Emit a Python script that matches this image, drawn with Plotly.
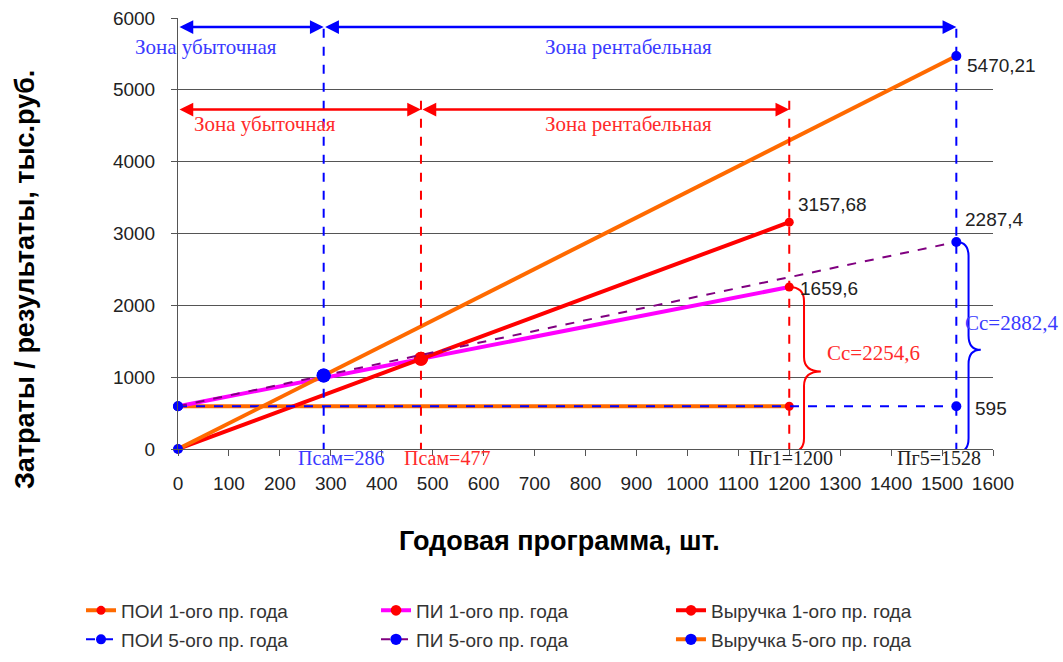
import plotly.graph_objects as go

# ---------------- data ----------------
series_names = ["ПОИ 1-ого пр. года", "ПИ 1-ого пр. года", "Выручка 1-ого пр. года",
                "ПОИ 5-ого пр. года", "ПИ 5-ого пр. года", "Выручка 5-ого пр. года"]

x_poi1 = [0, 1200]
y_poi1 = [595, 595]
x_year1 = [0, 477, 1200]
y_pi1 = [595, 1255, 2254.6]
y_rev1 = [0, 1255, 3157.68]

x_poi5 = [0, 1528]
y_poi5 = [595, 595]
x_year5 = [0, 286, 1528]
y_pi5 = [595, 1024, 2882.4]
y_rev5 = [0, 1024, 5470.21]

breakeven1 = 477
breakeven5 = 286
program1 = 1200
program5 = 1528
fixed_cost = 595
full_cost1 = 2254.6
full_cost5 = 2882.4

x_tick_vals = list(range(0, 1700, 100))
y_tick_vals = list(range(0, 7000, 1000))

value_labels = ["3157,68", "1659,6", "2287,4", "5470,21", "595"]
cost_labels = ["Cc=2254,6", "Cc=2882,4"]
point_labels = ["Псам=286", "Псам=477", "Пг1=1200", "Пг5=1528"]
zone_labels = ["Зона убыточная", "Зона рентабельная"]

# ---------------- styles ----------------
ORANGE = "#FF6A00"
RED = "#FF0000"
MAGENTA = "#FF00FF"
PURPLE = "#800080"
BLUE = "#0000FF"
TXT_BLUE = "#3A3AFF"
TXT_RED = "#FF2A2A"
SANS = "Liberation Sans, Arial, sans-serif"
SERIF = "Liberation Serif, Times New Roman, serif"

fig = go.Figure()

def add(x, y, name, color, width, dash, mcolor, msize, rank, legend):
    fig.add_trace(go.Scatter(
        x=x, y=y, name=name, mode="lines+markers",
        line=dict(color=color, width=width, dash=dash),
        marker=dict(color=mcolor, size=msize, symbol="circle", opacity=1,
                    line=dict(width=0, color=mcolor)),
        cliponaxis=False, legendrank=rank, legend=legend))

add(x_poi1, y_poi1, series_names[0], ORANGE, 4, "solid", RED, 9, 1, "legend")
add(x_year1, y_pi1, series_names[1], MAGENTA, 4, "solid", RED, [9, 14, 9], 2, "legend")
add(x_year1, y_rev1, series_names[2], RED, 4, "solid", RED, [9, 14, 9], 3, "legend")
add(x_poi5, y_poi5, series_names[3], BLUE, 2, "dash", BLUE, 10, 4, "legend2")
add(x_year5, y_pi5, series_names[4], PURPLE, 2, "dash", BLUE, [10, 14, 10], 5, "legend2")
add(x_year5, y_rev5, series_names[5], ORANGE, 4, "solid", BLUE, [10, 14, 10], 6, "legend3")

# vertical dashed guide lines
shapes = []
for xv, top, col in [(breakeven5, 5874, BLUE), (program5, 5874, BLUE),
                     (breakeven1, 4950, RED), (program1, 4950, RED)]:
    shapes.append(dict(type="line", xref="x", yref="y", x0=xv, x1=xv, y0=-40, y1=top,
                       line=dict(color=col, width=2, dash="dash"), layer="above"))

def brace(x0, xb, xt, ytop, ybot, ymid, r):
    return (f"M {x0},{ytop} Q {xb},{ytop} {xb},{ytop - r} "
            f"L {xb},{ymid + r} Q {xb},{ymid} {xt},{ymid} "
            f"Q {xb},{ymid} {xb},{ymid - r} "
            f"L {xb},{ybot + r} Q {xb},{ybot} {x0},{ybot}")

shapes.append(dict(type="path", xref="x", yref="y",
                   path=brace(program1, 1229, 1262, full_cost1, -50, 1080, 200),
                   line=dict(color=RED, width=2), layer="above"))
shapes.append(dict(type="path", xref="x", yref="y",
                   path=brace(program5, 1552, 1576, full_cost5, -50, 1380, 200),
                   line=dict(color=BLUE, width=2), layer="above"))

ann = []
# double arrows for zones
for (xa, xb, yv, col) in [(0, breakeven5, 5874, BLUE), (breakeven5, program5, 5874, BLUE),
                          (0, breakeven1, 4725, RED), (breakeven1, program1, 4725, RED)]:
    ann.append(dict(x=xb, y=yv, ax=xa, ay=yv, xref="x", yref="y", axref="x", ayref="y",
                    text="", showarrow=True, arrowhead=2, arrowside="end+start",
                    arrowsize=1.1, arrowwidth=2.5, arrowcolor=col, standoff=0, startstandoff=0))

# zone texts
zone_ann = [
    dict(x=54, y=5596, text=zone_labels[0], font=dict(color=TXT_BLUE, size=21, family=SERIF)),
    dict(x=884, y=5596, text=zone_labels[1], font=dict(color=TXT_BLUE, size=21, family=SERIF)),
    dict(x=171, y=4525, text=zone_labels[0], font=dict(color=TXT_RED, size=21, family=SERIF)),
    dict(x=884, y=4525, text=zone_labels[1], font=dict(color=TXT_RED, size=21, family=SERIF)),
]
for a in zone_ann:
    a.update(xref="x", yref="y", showarrow=False, xanchor="center", yanchor="middle")
ann += zone_ann

# value labels
for txt, xv, yv in zip(value_labels, [1213, 1217, 1541, 1545, 1561], [3410, 2230, 3200, 5332, 557]):
    ann.append(dict(x=xv, y=yv, text=txt, xref="x", yref="y", showarrow=False,
                    xanchor="left", yanchor="middle",
                    font=dict(color="#222222", size=19, family=SANS)))

# cost labels
for txt, xv, yv, col in zip(cost_labels, [1270, 1541], [1336, 1754], [TXT_RED, TXT_BLUE]):
    ann.append(dict(x=xv, y=yv, text=txt, xref="x", yref="y", showarrow=False,
                    xanchor="left", yanchor="middle",
                    font=dict(color=col, size=21, family=SERIF)))

# point labels under axis (x in data units, y in paper units just below the axis)
for txt, xv, col in zip(point_labels, [320, 528, 1203, 1494], [TXT_BLUE, TXT_RED, "#222222", "#222222"]):
    ann.append(dict(x=xv, y=-0.0209, text=txt, xref="x", yref="paper", showarrow=False,
                    xanchor="center", yanchor="middle",
                    font=dict(color=col, size=20, family=SERIF)))

# axis titles
ann.append(dict(x=-0.1877, y=0.392, xref="paper", yref="paper", showarrow=False,
                text="Затраты / результаты, тыс.руб.", textangle=-90,
                font=dict(size=27, family=SANS, color="#000000", weight="bold"),
                xanchor="center", yanchor="middle"))
ann.append(dict(x=0.4675, y=-0.2135, xref="paper", yref="paper", showarrow=False,
                text="Годовая программа, шт.",
                font=dict(size=27, family=SANS, color="#000000", weight="bold"),
                xanchor="center", yanchor="middle"))

leg_common = dict(orientation="h", xanchor="left", yanchor="top",
                  entrywidth=250, entrywidthmode="pixels", traceorder="normal",
                  font=dict(size=19, family=SANS, color="#333333"),
                  bgcolor="rgba(0,0,0,0)", tracegroupgap=0)

fig.update_layout(
    width=1063, height=662,
    margin=dict(l=178, r=70, t=18, b=213),
    plot_bgcolor="white", paper_bgcolor="white",
    shapes=shapes, annotations=ann,
    font=dict(family=SANS, size=19, color="#222222"),
    showlegend=True,
    legend=dict(x=-0.119, y=-0.3306, **leg_common),
    legend2=dict(xref="container", yref="container", x=0.0762, y=0.0627, **leg_common),
    legend3=dict(xref="container", yref="container", x=0.6312, y=0.0627, **leg_common),
)

fig.update_xaxes(range=[0, 1600], tickvals=x_tick_vals, ticktext=[str(v) for v in x_tick_vals],
                 showgrid=False, zeroline=False, showline=True, linecolor="#555555", linewidth=1,
                 ticks="outside", ticklen=6, tickcolor="#555555", ticklabelstandoff=11,
                 automargin=False,
                 tickfont=dict(size=19, family=SANS, color="#222222"))
fig.update_yaxes(range=[0, 6000], tickvals=y_tick_vals, ticktext=[str(v) for v in y_tick_vals],
                 showgrid=True, gridcolor="#555555", gridwidth=1, zeroline=False,
                 showline=True, linecolor="#555555", linewidth=1,
                 ticks="outside", ticklen=6, tickcolor="#555555", ticklabelstandoff=12,
                 automargin=False,
                 tickfont=dict(size=19, family=SANS, color="#222222"))

fig.write_html("out.html", config={"displayModeBar": False},
               post_script="document.body.style.margin='0px';document.body.style.overflow='hidden';")
